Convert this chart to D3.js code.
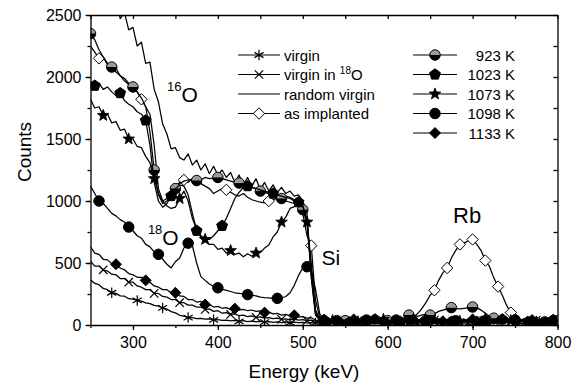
<!DOCTYPE html>
<html>
<head>
<meta charset="utf-8">
<title>RBS spectra</title>
<script src="https://cdn.jsdelivr.net/npm/d3@7"></script>
<style>
    body {
        margin: 0;
        background: #fff;
        font-family: "Liberation Sans", Arial, sans-serif;
    }
    svg { display: block; }
    .axis path, .axis line { stroke: #000; stroke-width: 1.3; }
    .axis text { font-size: 16px; fill: #000; font-family: "Liberation Sans", Arial, sans-serif; }
</style>
</head>
<body>
<script>
    // channel grid, keV
    var energy = d3.range(250, 801, 5);

    var virgin = [
        365, 335, 325, 295, 285, 260, 255, 235, 232, 212, 208,
        198, 192, 178, 172, 158, 152, 138, 128, 108, 98, 78,
        72, 60, 60, 52, 54, 48, 50, 42, 44, 38, 40,
        34, 38, 30, 35, 28, 32, 26, 30, 24, 28, 22,
        26, 20, 25, 18, 24, 20, 22, 18, 20, 16, 20,
        15, 22, 12, 18, 25, 14, 20, 10, 18, 22, 15,
        20, 12, 18, 24, 14, 20, 16, 10, 22, 15, 18,
        12, 20, 15, 22, 10, 18, 24, 14, 20, 16, 12,
        18, 14, 22, 12, 20, 16, 10, 22, 15, 18, 24,
        14, 20, 16, 12, 22, 18, 14, 20, 10, 16, 22,
        15];
    var virgin18O = [
        515, 475, 475, 445, 435, 410, 405, 375, 375, 345, 345,
        315, 305, 285, 285, 255, 255, 230, 225, 205, 205, 180,
        180, 160, 160, 145, 145, 125, 130, 110, 115, 95, 100,
        85, 90, 75, 80, 68, 74, 62, 66, 56, 60, 52,
        55, 46, 50, 42, 47, 40, 44, 36, 40, 32, 34,
        25, 35, 20, 30, 40, 25, 30, 20, 35, 25, 30,
        20, 35, 25, 30, 20, 40, 25, 30, 35, 20, 30,
        35, 20, 30, 25, 40, 20, 30, 35, 25, 30, 20,
        30, 25, 35, 20, 30, 40, 25, 30, 20, 35, 25,
        25, 30, 20, 35, 25, 30, 40, 20, 30, 25, 35,
        25];
    var randomVirgin = [
        2880, 2760, 2830, 2660, 2700, 2560, 2640, 2470, 2520, 2380, 2400,
        2250, 2280, 2110, 2120, 1900, 1800, 1620, 1540, 1420, 1430, 1350,
        1330, 1380, 1290, 1330, 1250, 1300, 1220, 1280, 1210, 1250, 1190,
        1230, 1150, 1210, 1130, 1190, 1120, 1180, 1090, 1150, 1080, 1130,
        1070, 1110, 1060, 1080, 1040, 1050, 1000, 900, 380, 80, 40,
        30, 45, 20, 35, 50, 25, 40, 30, 55, 20, 35,
        45, 25, 40, 30, 50, 35, 20, 45, 30, 40, 25,
        35, 50, 25, 40, 30, 45, 20, 35, 50, 30, 40,
        25, 45, 30, 40, 20, 35, 50, 25, 40, 30, 45,
        20, 35, 45, 30, 40, 25, 50, 30, 35, 20, 40,
        30];
    var asImplanted = [
        2250, 2200, 2150, 2160, 2100, 2060, 2070, 2010, 1990, 1950, 1930,
        1880, 1820, 1760, 1700, 1450, 1100, 1000, 1020, 1080, 1120, 1150,
        1170, 1150, 1180, 1160, 1140, 1120, 1100, 1060, 1080, 1100, 1090,
        1070, 1050, 1040, 1060, 1030, 1010, 1000, 990, 985, 1000, 1010,
        1020, 1030, 1040, 1030, 1010, 980, 900, 720, 640, 200, 60,
        35, 25, 40, 30, 20, 45, 30, 35, 25, 40, 30,
        25, 40, 35, 30, 45, 25, 35, 40, 30, 35, 60,
        90, 130, 180, 240, 280, 360, 420, 460, 540, 600, 650,
        660, 680, 690, 650, 600, 520, 470, 380, 310, 240, 160,
        100, 60, 40, 30, 35, 25, 40, 30, 20, 35, 25,
        30];
    var k923 = [
        2350, 2300, 2220, 2160, 2110, 2080, 2040, 2010, 1970, 1940, 1920,
        1880, 1830, 1760, 1560, 1250, 1050, 980, 1000, 1050, 1100, 1140,
        1160, 1170, 1175, 1165, 1170, 1190, 1180, 1185, 1190, 1180, 1170,
        1160, 1150, 1145, 1140, 1120, 1110, 1100, 1080, 1070, 1060, 1050,
        1040, 1020, 1000, 990, 980, 960, 930, 820, 400, 90, 40,
        25, 40, 30, 45, 20, 35, 30, 40, 25, 45, 30,
        35, 25, 40, 30, 35, 45, 30, 40, 60, 80, 75,
        70, 80, 85, 80, 90, 110, 120, 130, 140, 135, 130,
        135, 140, 145, 140, 120, 95, 70, 55, 45, 40, 35,
        30, 40, 25, 35, 30, 45, 20, 35, 40, 30, 25,
        35];
    var k1023 = [
        1960, 1930, 1950, 1900, 1920, 1880, 1850, 1870, 1810, 1780, 1760,
        1720, 1700, 1650, 1450, 1150, 1000, 950, 980, 1040, 1100, 1130,
        1120, 1050, 900, 760, 720, 700, 690, 720, 760, 800, 860,
        940, 1020, 1070, 1110, 1120, 1110, 1100, 1090, 1080, 1070, 1060,
        1050, 1040, 1030, 1020, 1000, 990, 960, 850, 430, 100, 40,
        40, 30, 45, 25, 35, 40, 20, 35, 45, 30, 40,
        30, 45, 25, 40, 35, 30, 45, 25, 35, 40, 30,
        45, 30, 40, 25, 35, 45, 30, 40, 25, 35, 45,
        30, 40, 35, 25, 45, 30, 40, 35, 30, 45, 25,
        40, 30, 35, 45, 25, 40, 30, 35, 45, 30, 40,
        35];
    var k1073 = [
        1820, 1750, 1760, 1690, 1700, 1630, 1640, 1570, 1580, 1500, 1500,
        1440, 1430, 1360, 1310, 1180, 1060, 1000, 960, 940, 950, 1020,
        1080, 1000, 860, 770, 710, 690, 650, 650, 610, 620, 580,
        600, 570, 580, 550, 575, 555, 580, 585, 620, 645, 710,
        750, 830, 870, 940, 955, 975, 960, 830, 500, 120, 50,
        45, 25, 35, 50, 30, 20, 40, 35, 25, 45, 30,
        40, 30, 20, 45, 35, 25, 40, 30, 50, 25, 35,
        30, 40, 45, 25, 35, 30, 50, 20, 40, 35, 30,
        45, 25, 35, 40, 30, 50, 25, 35, 45, 20, 40,
        35, 45, 20, 40, 30, 35, 25, 45, 30, 40, 35,
        25];
    var k1098 = [
        1120, 1060, 1000, 980, 940, 900, 880, 850, 830, 790, 760,
        720, 700, 650, 630, 590, 570, 530, 490, 460, 510, 540,
        620, 660, 640, 500, 390, 360, 330, 310, 300, 290, 280,
        270, 260, 255, 250, 245, 240, 235, 225, 220, 218, 215,
        215, 218, 230, 260, 320, 400, 460, 470, 430, 290, 90,
        40, 30, 45, 35, 25, 40, 30, 45, 20, 35, 40,
        25, 40, 35, 30, 45, 20, 40, 30, 35, 45, 30,
        40, 30, 25, 45, 35, 40, 30, 20, 45, 35, 25,
        35, 45, 30, 40, 25, 35, 45, 30, 40, 25, 35,
        30, 40, 35, 25, 45, 30, 40, 35, 25, 40, 30,
        40];
    var k1133 = [
        630, 580, 570, 530, 525, 495, 490, 460, 445, 415, 405,
        385, 385, 360, 345, 315, 305, 285, 285, 260, 260, 235,
        230, 205, 205, 185, 190, 165, 165, 145, 150, 135, 140,
        125, 132, 120, 126, 115, 121, 110, 114, 100, 104, 90,
        94, 80, 86, 74, 78, 64, 68, 56, 58, 40, 38,
        30, 45, 25, 40, 50, 30, 35, 45, 25, 40, 55,
        35, 30, 45, 25, 40, 35, 50, 30, 40, 25, 45,
        30, 50, 35, 40, 25, 45, 30, 40, 35, 50, 30,
        40, 25, 45, 35, 30, 50, 40, 25, 35, 45, 30,
        45, 35, 30, 50, 25, 40, 35, 45, 30, 40, 50,
        35];

    var xTicks = [300, 400, 500, 600, 700, 800];
    var yTicks = [0, 500, 1000, 1500, 2000, 2500];
    var leftLegend = ['virgin', 'virgin in ^18O', 'random virgin', 'as implanted'];
    var rightLegend = ['923 K', '1023 K', '1073 K', '1098 K', '1133 K'];

    var W = 579, H = 387;
    var margin = {top: 15, right: 21.5, bottom: 62, left: 90.5};

    // marker shapes
    var symAsterisk = {draw: function (c, s) {
        var r = Math.sqrt(s) / 2, a = r * Math.cos(Math.PI / 6), b = r / 2;
        c.moveTo(0, -r); c.lineTo(0, r);
        c.moveTo(-a, -b); c.lineTo(a, b);
        c.moveTo(-a, b); c.lineTo(a, -b);
    }};
    var symTimes = {draw: function (c, s) {
        var r = Math.sqrt(s) / 2 * 0.8;
        c.moveTo(-r, -r); c.lineTo(r, r);
        c.moveTo(-r, r); c.lineTo(r, -r);
    }};
    var symDiamond = {draw: function (c, s) {
        var r = Math.sqrt(s) / 2;
        c.moveTo(0, -r); c.lineTo(r, 0); c.lineTo(0, r); c.lineTo(-r, 0); c.closePath();
    }};
    var symPentagon = {draw: function (c, s) {
        var r = Math.sqrt(s) / 2;
        for (var k = 0; k < 5; k++) {
            var t = -Math.PI / 2 + k * 2 * Math.PI / 5;
            if (k === 0) c.moveTo(r * Math.cos(t), r * Math.sin(t));
            else c.lineTo(r * Math.cos(t), r * Math.sin(t));
        }
        c.closePath();
    }};
    var symStar = {draw: function (c, s) {
        var r = Math.sqrt(s) / 2, ri = r * 0.42;
        for (var k = 0; k < 10; k++) {
            var t = -Math.PI / 2 + k * Math.PI / 5, rr = k % 2 ? ri : r;
            if (k === 0) c.moveTo(rr * Math.cos(t), rr * Math.sin(t));
            else c.lineTo(rr * Math.cos(t), rr * Math.sin(t));
        }
        c.closePath();
    }};
    var symDisc = {draw: function (c, s) {
        var r = Math.sqrt(s) / 2;
        c.moveTo(r, 0); c.arc(0, 0, r, 0, 2 * Math.PI);
    }};
    var symHalfDisc = {draw: function (c, s) {
        var r = Math.sqrt(s) / 2;
        c.moveTo(r, 0); c.arc(0, 0, r, 0, Math.PI); c.closePath();
    }};

    var styles = {
        virgin:   {type: symAsterisk, size: 110, fill: 'none', stroke: '#000', sw: 1.2},
        times:    {type: symTimes, size: 110, fill: 'none', stroke: '#000', sw: 1.2},
        open:     {type: symDiamond, size: 130, fill: '#fff', stroke: '#000', sw: 1},
        half:     {type: symDisc, size: 110, fill: '#9a9a9a', stroke: '#000', sw: 1, half: true},
        pentagon: {type: symPentagon, size: 130, fill: '#000', stroke: '#000', sw: 1},
        star:     {type: symStar, size: 150, fill: '#000', stroke: '#000', sw: 0.8},
        disc:     {type: symDisc, size: 110, fill: '#000', stroke: '#000', sw: 1},
        diamond:  {type: symDiamond, size: 120, fill: '#000', stroke: '#000', sw: 1}
    };

    var series = [
        {data: virgin, style: 'virgin', mark: function (i) { return i % 6 === 5; }},
        {data: virgin18O, style: 'times', mark: function (i) { return i % 6 === 3; }},
        {data: randomVirgin, style: null},
        {data: asImplanted, style: 'open', mark: function (i, e) {
            return e >= 650 ? (e <= 745 && i % 3 === 0) : i % 10 === 2; }},
        {data: k923, style: 'half', mark: function (i) { return i % 5 === 0; }},
        {data: k1023, style: 'pentagon', mark: function (i) { return i % 6 === 1; }},
        {data: k1073, style: 'star', mark: function (i) { return i % 6 === 3; }},
        {data: k1098, style: 'disc', mark: function (i) { return i % 7 === 2; }},
        {data: k1133, style: 'diamond', mark: function (i) { return i % 7 === 6; }}
    ];

    var svg = d3.select('body').append('svg')
            .attr('width', W)
            .attr('height', H);

    var x = d3.scaleLinear().domain([250, 800]).range([margin.left, W - margin.right]);
    var y = d3.scaleLinear().domain([0, 2500]).range([H - margin.bottom, margin.top]);

    svg.append('clipPath').attr('id', 'plot')
            .append('rect')
            .attr('x', margin.left).attr('y', margin.top)
            .attr('width', x.range()[1] - margin.left)
            .attr('height', y.range()[0] - margin.top);

    function drawSymbol(g, st, px, py) {
        var m = g.append('g').attr('transform', 'translate(' + px + ',' + py + ')');
        m.append('path')
                .attr('d', d3.symbol().type(st.type).size(st.size)())
                .attr('fill', st.fill)
                .attr('stroke', st.stroke)
                .attr('stroke-width', st.sw);
        if (st.half) {
            m.append('path')
                    .attr('d', d3.symbol().type(symHalfDisc).size(st.size)())
                    .attr('fill', '#000');
        }
    }

    var line = d3.line()
            .x(function (d, i) { return x(energy[i]); })
            .y(function (d) { return y(d); });

    var plot = svg.append('g').attr('clip-path', 'url(#plot)');
    series.forEach(function (s) {
        var g = plot.append('g');
        g.append('path')
                .datum(s.data)
                .attr('d', line)
                .attr('fill', 'none')
                .attr('stroke', '#000')
                .attr('stroke-width', 1.25)
                .attr('stroke-linejoin', 'round');
        if (s.style) {
            var st = styles[s.style];
            s.data.forEach(function (v, i) {
                if (s.mark(i, energy[i])) drawSymbol(g, st, x(energy[i]), y(v));
            });
        }
    });

    // axes
    var xMinor = d3.range(250, 801, 50), yMinor = d3.range(0, 2501, 250);
    function minorAxis(axis, vals, size) {
        return axis.tickValues(vals).tickSize(size).tickFormat('').tickSizeOuter(0);
    }
    var bottom = svg.append('g').attr('class', 'axis')
            .attr('transform', 'translate(0,' + y(0) + ')');
    bottom.call(minorAxis(d3.axisBottom(x), xMinor, 3));
    bottom.append('g').call(d3.axisBottom(x).tickValues(xTicks).tickSize(5)
            .tickSizeOuter(0).tickPadding(7).tickFormat(d3.format('d')))
            .selectAll('path').remove();

    var left = svg.append('g').attr('class', 'axis')
            .attr('transform', 'translate(' + x(250) + ',0)');
    left.call(minorAxis(d3.axisLeft(y), yMinor, 3));
    left.append('g').call(d3.axisLeft(y).tickValues(yTicks).tickSize(5)
            .tickSizeOuter(0).tickPadding(4).tickFormat(d3.format('d')))
            .selectAll('path').remove();

    svg.append('g').attr('class', 'axis')
            .attr('transform', 'translate(0,' + y(2500) + ')')
            .call(minorAxis(d3.axisTop(x), xMinor, -4));
    svg.append('g').attr('class', 'axis')
            .attr('transform', 'translate(' + x(800) + ',0)')
            .call(minorAxis(d3.axisRight(y), yMinor, -4));
    svg.selectAll('.axis text').attr('font-size', 16);
    svg.selectAll('.axis .domain').attr('stroke-width', 1.5);

    svg.append('text')
            .attr('x', 304).attr('y', 378)
            .attr('text-anchor', 'middle')
            .attr('font-size', 19)
            .text('Energy (keV)');
    svg.append('text')
            .attr('transform', 'translate(31,152) rotate(-90)')
            .attr('text-anchor', 'middle')
            .attr('font-size', 19)
            .text('Counts');

    // peak labels
    function isotope(px, py, mass, sym, big) {
        var t = svg.append('text').attr('x', px).attr('y', py);
        t.append('tspan').attr('font-size', 13).attr('dy', -11).text(mass);
        t.append('tspan').attr('font-size', big).attr('dy', 11).text(sym);
    }
    isotope(x(340), y(1798), '16', 'O', 21);
    isotope(x(317.6), y(645), '18', 'O', 21);
    svg.append('text').attr('x', x(522)).attr('y', y(484)).attr('font-size', 21).text('Si');
    svg.append('text').attr('x', x(693.6)).attr('y', y(823))
            .attr('text-anchor', 'middle').attr('font-size', 22).text('Rb');

    // legend
    var rowY = [55, 74.5, 94, 113.5, 133];
    var leftStyles = ['virgin', 'times', null, 'open'];
    var rightStyles = ['half', 'pentagon', 'star', 'disc', 'diamond'];
    var lg = svg.append('g').attr('font-size', 15);
    leftLegend.forEach(function (label, k) {
        var yy = rowY[k];
        lg.append('line').attr('x1', 238).attr('x2', 280).attr('y1', yy).attr('y2', yy)
                .attr('stroke', '#000').attr('stroke-width', 1.1);
        if (leftStyles[k]) drawSymbol(lg, styles[leftStyles[k]], 259, yy);
        var t = lg.append('text').attr('x', 284).attr('y', yy + 5.5);
        var parts = label.split('^');
        t.append('tspan').text(parts[0]);
        if (parts[1]) {
            t.append('tspan').attr('font-size', 10).attr('dy', -6).text(parts[1].slice(0, 2));
            t.append('tspan').attr('dy', 6).text(parts[1].slice(2));
        }
    });
    rightLegend.forEach(function (label, k) {
        var yy = rowY[k];
        lg.append('line').attr('x1', 413).attr('x2', 457).attr('y1', yy).attr('y2', yy)
                .attr('stroke', '#000').attr('stroke-width', 1.1);
        drawSymbol(lg, styles[rightStyles[k]], 435, yy);
        lg.append('text').attr('x', 515).attr('y', yy + 5.5)
                .attr('text-anchor', 'end').text(label);
    });
</script>
</body>
</html>
